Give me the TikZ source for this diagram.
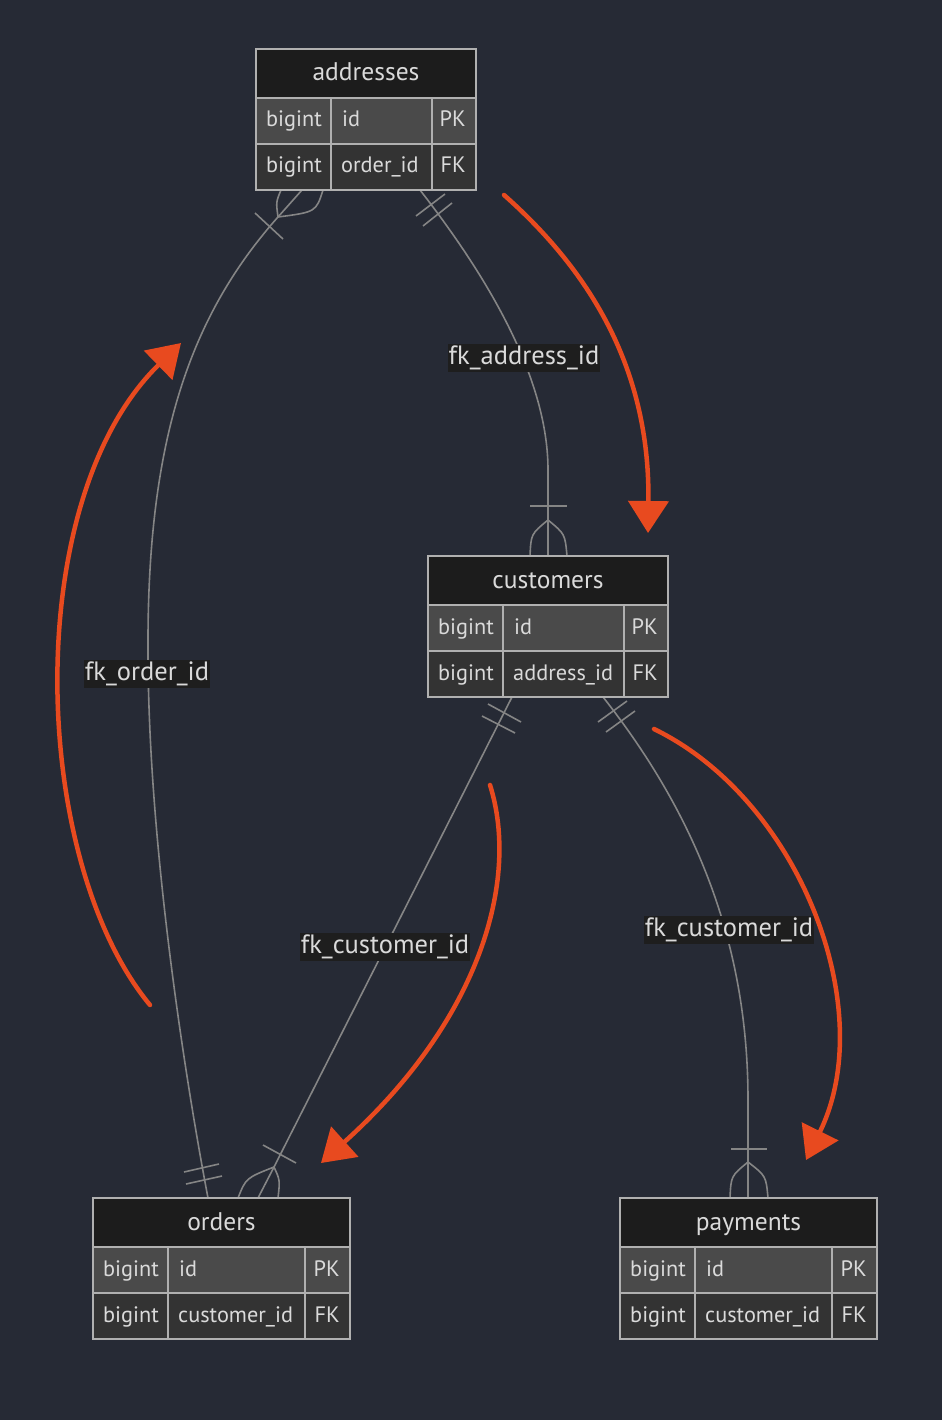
\documentclass[tikz,border=0pt]{standalone}
\usepackage{fontspec}
\setmainfont{PT Sans}
\usetikzlibrary{arrows.meta}
\definecolor{bg}{HTML}{262A35}
\definecolor{hdrfill}{HTML}{1C1C1C}
\definecolor{pkfill}{HTML}{4A4A4A}
\definecolor{fkfill}{HTML}{333333}
\definecolor{tabline}{HTML}{B0B0B0}
\definecolor{txt}{HTML}{DADADA}
\definecolor{conn}{HTML}{858585}
\definecolor{lblfill}{HTML}{1E1E1E}
\definecolor{redarrow}{HTML}{E84A1F}
\tikzset{
  tabline/.style={draw=tabline, line width=2pt},
  hdrtext/.style={text=txt, font=\fontsize{25.5}{30}\selectfont, inner sep=0pt, anchor=base},
  celltext/.style={text=txt, font=\fontsize{22.3}{27}\selectfont, inner sep=0pt, anchor=base west},
  pktext/.style={text=txt, font=\fontsize{22.3}{27}\selectfont, inner sep=0pt, anchor=base east},
  connline/.style={draw=conn, line width=1.6pt},
  rellabel/.style={fill=lblfill, text=txt, font=\fontsize{26.5}{31}\selectfont, inner xsep=1pt, inner ysep=1pt, text height=19pt, text depth=7pt},
  redarr/.style={draw=redarrow, line width=4.5pt, line cap=round, -{Triangle[length=32pt,width=40pt]}}
}
% #1 id, #2 left, #3 top, #4 col div 1, #5 col div 2, #6 right, #7 title, #8 fk name
\newcommand\ertab[8]{%
  \fill[hdrfill] (#2,#3) rectangle (#6,#3+49);
  \fill[pkfill] (#2,#3+49) rectangle (#6,#3+95);
  \fill[fkfill] (#2,#3+95) rectangle (#6,#3+141);
  \draw[tabline] (#2,#3) rectangle (#6,#3+141);
  \draw[tabline] (#2,#3+49) -- (#6,#3+49);
  \draw[tabline] (#2,#3+95) -- (#6,#3+95);
  \draw[tabline] (#4,#3+49) -- (#4,#3+141);
  \draw[tabline] (#5,#3+49) -- (#5,#3+141);
  \node[hdrtext] (#1) at ({(#2+#6)/2},#3+32) {#7};
  \node[celltext] (#1-a1) at (#2+10,#3+78) {bigint};
  \node[celltext] (#1-b1) at (#4+11,#3+78) {id};
  \node[pktext]   (#1-c1) at (#6-10,#3+78) {PK};
  \node[celltext] (#1-a2) at (#2+10,#3+124) {bigint};
  \node[celltext] (#1-b2) at (#4+10,#3+124) {#8};
  \node[pktext]   (#1-c2) at (#6-10,#3+124) {FK};
}
\begin{document}
\begin{tikzpicture}[x=1pt,y=-1pt]
\fill[bg] (0,0) rectangle (942,1420);
\useasboundingbox (0,0) rectangle (942,1420);

% ---------- connectors ----------
% addresses -- orders
\coordinate (ao-s) at (302,190);
\coordinate (ao-c) at (278,217);
\coordinate (ao-m) at (148,650);
\coordinate (ao-e) at (208,1198);
\draw[connline] (ao-s) -- (ao-c) .. controls (190,316) and (147,440) .. (ao-m)
   .. controls (148,850) and (188,1093) .. (ao-e);
\draw[connline] (ao-c) .. controls (276,202) .. (281,190);
\draw[connline] (ao-c) .. controls (316,212) .. (323,190);
\draw[connline] (255,213) -- (283,239);
\draw[connline] (184,1172) -- (219,1164);
\draw[connline] (186,1184) -- (222,1176);

% addresses -- customers
\coordinate (ac-s) at (420,190);
\coordinate (ac-m) at (548,470);
\coordinate (ac-c) at (548,520);
\coordinate (ac-e) at (548,556);
\draw[connline] (ac-s) .. controls (490,280) and (548,380) .. (ac-m) -- (ac-e);
\draw[connline] (ac-c) .. controls (531,534) .. (530,556);
\draw[connline] (ac-c) .. controls (565,534) .. (567,556);
\draw[connline] (530,506) -- (567,506);
\draw[connline] (416,216) -- (445,194);
\draw[connline] (423,226) -- (452,203);

% customers -- orders
\coordinate (co-s) at (512,697);
\coordinate (co-c) at (274,1167);
\draw[connline] (co-s) -- (co-c) -- (258,1198);
\draw[connline] (co-c) .. controls (246,1178) .. (238,1198);
\draw[connline] (co-c) .. controls (280,1180) .. (278,1198);
\draw[connline] (263,1145) -- (296,1163);
\draw[connline] (488,704) -- (521,722);
\draw[connline] (482,716) -- (515,733);

% customers -- payments
\coordinate (cp-s) at (603,697);
\coordinate (cp-m) at (748,1100);
\coordinate (cp-c) at (748,1162);
\coordinate (cp-e) at (748,1198);
\draw[connline] (cp-s) .. controls (700,820) and (748,950) .. (cp-m) -- (cp-e);
\draw[connline] (cp-c) .. controls (731,1176) .. (730,1198);
\draw[connline] (cp-c) .. controls (766,1176) .. (768,1198);
\draw[connline] (731,1149) -- (767,1149);
\draw[connline] (598,722) -- (627,701);
\draw[connline] (606,732) -- (635,711);

% ---------- tables ----------
\ertab{addresses}{256}{49}{331}{432}{476}{addresses}{order\_id}
\ertab{customers}{428}{556}{503}{624}{668}{customers}{address\_id}
\ertab{orders}{93}{1198}{168}{305}{350}{orders}{customer\_id}
\ertab{payments}{620}{1198}{695}{832}{877}{payments}{customer\_id}

% ---------- labels ----------
\node[rellabel] (l1) at (524,358) {fk\_address\_id};
\node[rellabel] (l2) at (147,674) {fk\_order\_id};
\node[rellabel] (l3) at (385,947) {fk\_customer\_id};
\node[rellabel] (l4) at (729,930) {fk\_customer\_id};

% ---------- red arrows ----------
\coordinate (ra-s) at (150,1005);
\coordinate (ra-e) at (181,343);
\draw[redarr] (ra-s) .. controls (30,860) and (20,500) .. (ra-e);
\coordinate (rb-s) at (504,195);
\coordinate (rb-e) at (648,533);
\draw[redarr] (rb-s) .. controls (600,280) and (650,380) .. (rb-e);
\coordinate (rc-s) at (490,785);
\coordinate (rc-e) at (321,1163);
\draw[redarr] (rc-s) .. controls (520,880) and (480,1020) .. (rc-e);
\coordinate (rd-s) at (654,729);
\coordinate (rd-e) at (806,1160);
\draw[redarr] (rd-s) .. controls (800,800) and (880,1010) .. (rd-e);
\end{tikzpicture}
\end{document}
